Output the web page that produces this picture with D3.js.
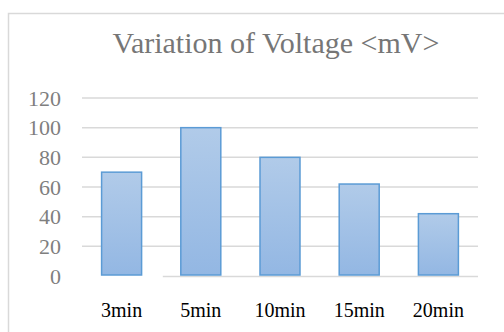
<!DOCTYPE html>
<html>
<head>
<meta charset="utf-8">
<script src="https://cdn.jsdelivr.net/npm/d3@7"></script>
<style>
  body { margin: 0; background: white; }
  svg { display: block; }
</style>
</head>
<body>
<div id="vis"></div>
<script>
// chart data
const categories = ["3min", "5min", "10min", "15min", "20min"];
const voltage = [70, 100, 80, 62, 42];
const yTicks = [0, 20, 40, 60, 80, 100, 120];
const title = "Variation of Voltage <mV>";

const W = 504, H = 332;
let margin = { top: 98, left: 82, right: 26, bottom: 56 },
  width = W - margin.left - margin.right,
  height = H - margin.top - margin.bottom;

let svg = d3
  .select("#vis")
  .append("svg")
  .attr("width", W)
  .attr("height", H);

// chart frame (only top and left edges show in the picture)
svg.append("path")
  .attr("d", "M8.5," + H + "V13.5H" + W)
  .attr("fill", "none")
  .attr("stroke", "#d9d9d9")
  .attr("stroke-width", 1.5);

// bar gradient
let grad = svg.append("defs").append("linearGradient")
  .attr("id", "barFill")
  .attr("x1", 0).attr("y1", 0).attr("x2", 0).attr("y2", 1);
grad.append("stop").attr("offset", "0%").attr("stop-color", "#b1cbe9");
grad.append("stop").attr("offset", "100%").attr("stop-color", "#93b7e3");

let g = svg.append("g")
  .attr("transform", `translate(${margin.left},${margin.top})`);

let x = d3.scaleBand().domain(categories).range([0, width]).paddingInner(0.495).paddingOuter(0.2475);
let y = d3.scaleLinear().domain([0, 120]).range([height, 0]);

// gridlines
g.selectAll(".grid")
  .data(yTicks.filter(d => d > 0))
  .join("line")
  .attr("x1", 0)
  .attr("x2", width)
  .attr("y1", d => y(d))
  .attr("y2", d => y(d))
  .attr("stroke", "#d9d9d9")
  .attr("stroke-width", 1.5);

// baseline (starts near the second category in the picture)
g.append("line")
  .attr("x1", x(categories[1]) - 18)
  .attr("x2", width)
  .attr("y1", y(0) + 0.5)
  .attr("y2", y(0) + 0.5)
  .attr("stroke", "#d9d9d9")
  .attr("stroke-width", 1.5);

// y axis labels
let yAxis = g.append("g")
  .attr("transform", "translate(-21,0)")
  .call(d3.axisLeft(y).tickValues(yTicks).tickSize(0).tickPadding(0));
yAxis.select(".domain").remove();
yAxis.selectAll("text")
  .attr("text-anchor", "end")
  .attr("font-family", "'Liberation Serif', serif")
  .attr("font-size", 22)
  .attr("fill", "#7f7f7f");

// bars
g.selectAll(".bar")
  .data(voltage)
  .join("rect")
  .attr("x", (d, i) => x(categories[i]))
  .attr("y", d => y(d))
  .attr("width", x.bandwidth())
  .attr("height", d => y(0) - y(d) - 1)
  .attr("fill", "url(#barFill)")
  .attr("stroke", "#5b9bd5")
  .attr("stroke-width", 1.5);

// x axis labels
let xAxis = g.append("g")
  .attr("transform", `translate(0,${height})`)
  .call(d3.axisBottom(x).tickSize(0).tickPadding(27));
xAxis.select(".domain").remove();
xAxis.selectAll("text")
  .attr("text-anchor", "middle")
  .attr("font-family", "'Liberation Serif', serif")
  .attr("font-size", 20)
  .attr("fill", "#000");

// title
svg.append("text")
  .attr("x", 276)
  .attr("y", 53)
  .attr("text-anchor", "middle")
  .attr("font-family", "'Liberation Serif', serif")
  .attr("font-size", 30)
  .attr("fill", "#767676")
  .text(title);
</script>
</body>
</html>
